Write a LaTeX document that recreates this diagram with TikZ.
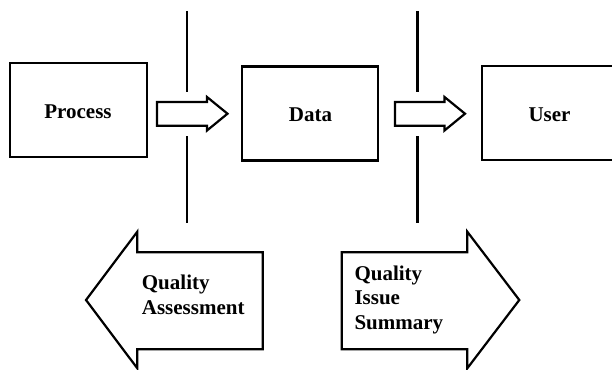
\documentclass[tikz,border=0pt]{standalone}
\usepackage{fontspec}
\setmainfont{Liberation Serif}
\begin{document}
\begin{tikzpicture}[x=1pt,y=-1pt,
  outline/.style={draw=black,line width=2.2pt,line join=miter},
  boxnode/.style={outline,inner sep=0pt,font=\fontsize{21}{25}\selectfont\bfseries},
  lbl/.style={inner sep=0pt,align=left,font=\fontsize{21}{24.5}\selectfont\bfseries},
  divider/.style={draw=black,line width=2.2pt}]
\useasboundingbox (0,0) rectangle (612,369);
\clip (0,0) rectangle (612,369);
% boxes
\node[boxnode,minimum width=137pt,minimum height=94pt] (process) at (78.5,110) {};
\node[font=\fontsize{21}{25}\selectfont\bfseries,inner sep=0pt,anchor=base] (ptext) at (78,118.3) {Process};
\node[boxnode,minimum width=136pt,minimum height=94pt] (data) at (310,113.5) {};
\node[font=\fontsize{21}{25}\selectfont\bfseries,inner sep=0pt,anchor=base] (dtext) at (310.5,121.7) {Data};
\node[boxnode,minimum width=136pt,minimum height=94pt] (user) at (549.7,113) {};
\node[font=\fontsize{21}{25}\selectfont\bfseries,inner sep=0pt,anchor=base] (utext) at (549.5,121.5) {User};
% dividers
\coordinate (d1t) at (187,11);
\coordinate (d1m) at (187,92);
\coordinate (d1n) at (187,136);
\coordinate (d1b) at (187,223);
\coordinate (d2t) at (417.5,11);
\coordinate (d2m) at (417.5,92);
\coordinate (d2n) at (417.5,136);
\coordinate (d2b) at (417.5,223);
\draw[divider] (d1t) -- (d1m) (d1n) -- (d1b);
\draw[divider] (d2t) -- (d2m) (d2n) -- (d2b);
% small block arrows
\draw[outline] (157,102) -- (207,102) -- (207,97) -- (227.5,113.7) -- (207,130.5) -- (207,125.7) -- (157,125.7) -- cycle;
\draw[outline] (395,102) -- (444.5,102) -- (444.5,97) -- (465,113.7) -- (444.5,130.5) -- (444.5,125.7) -- (395,125.7) -- cycle;
% large block arrows
\draw[outline] (262.7,252.3) -- (137.3,252.3) -- (137.3,231.7) -- (86,300) -- (137.3,368.3) -- (137.3,349.3) -- (262.7,349.3) -- cycle;
\draw[outline] (341.7,252.3) -- (467.3,252.3) -- (467.3,231.7) -- (519.3,300) -- (467.3,368.3) -- (467.3,349.3) -- (341.7,349.3) -- cycle;
\node[lbl,anchor=base west] (qa) at (141.7,314) {Quality\\Assessment};
\node[lbl,anchor=base west] (qis) at (354.3,329.3) {Quality\\Issue\\Summary};
\end{tikzpicture}
\end{document}
